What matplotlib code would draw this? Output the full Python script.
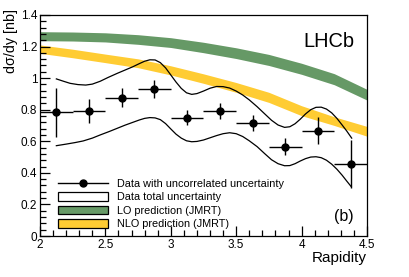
import matplotlib
matplotlib.use("Agg")
import matplotlib.pyplot as plt
from matplotlib.lines import Line2D
from matplotlib.patches import Patch
from matplotlib.ticker import MultipleLocator, FuncFormatter

plt.rcParams['font.family'] = ['Liberation Sans', 'DejaVu Sans']

# ---- data ----
rap = [2.125, 2.375, 2.625, 2.875, 3.125, 3.375, 3.625, 3.875, 4.125, 4.375]
xsig = [0.783, 0.792, 0.876, 0.931, 0.749, 0.794, 0.717, 0.566, 0.668, 0.456]
stat_err = [0.155, 0.076, 0.062, 0.058, 0.047, 0.050, 0.050, 0.053, 0.087, 0.155]
bin_half = [0.125] * 10

upper_r = [2.125, 2.18, 2.23, 2.29, 2.35, 2.40, 2.46, 2.52, 2.59, 2.65, 2.71, 2.76, 2.80,
           2.84, 2.88, 2.92, 2.96, 3.00, 3.04, 3.08, 3.12, 3.16, 3.20, 3.25, 3.30, 3.35,
           3.40, 3.45, 3.50, 3.55, 3.60, 3.66, 3.72, 3.77, 3.82, 3.87, 3.91, 3.95, 3.99,
           4.03, 4.07, 4.11, 4.15, 4.19, 4.23, 4.27, 4.31, 4.345, 4.383]
upper_v = [0.995, 0.980, 0.967, 0.959, 0.956, 0.962, 0.980, 1.004, 1.030, 1.051, 1.072, 1.092, 1.107,
           1.116, 1.115, 1.098, 1.065, 1.020, 0.975, 0.935, 0.907, 0.897, 0.902, 0.918, 0.936, 0.947,
           0.946, 0.937, 0.918, 0.893, 0.862, 0.819, 0.772, 0.733, 0.703, 0.688, 0.692, 0.711, 0.740,
           0.773, 0.800, 0.815, 0.816, 0.804, 0.780, 0.745, 0.703, 0.665, 0.620]

lower_r = [2.125, 2.20, 2.27, 2.33, 2.40, 2.46, 2.53, 2.59, 2.65, 2.71, 2.76, 2.80, 2.84,
           2.88, 2.92, 2.96, 3.00, 3.04, 3.08, 3.12, 3.16, 3.20, 3.25, 3.30, 3.35, 3.40,
           3.45, 3.50, 3.55, 3.60, 3.66, 3.72, 3.77, 3.82, 3.87, 3.91, 3.95, 3.99, 4.03,
           4.07, 4.11, 4.15, 4.19, 4.23, 4.27, 4.31, 4.345, 4.38]
lower_v = [0.572, 0.582, 0.592, 0.602, 0.620, 0.640, 0.662, 0.682, 0.702, 0.720, 0.735, 0.745, 0.750,
           0.748, 0.737, 0.712, 0.678, 0.645, 0.620, 0.603, 0.597, 0.599, 0.608, 0.622, 0.636, 0.648,
           0.654, 0.648, 0.630, 0.603, 0.566, 0.520, 0.483, 0.458, 0.445, 0.446, 0.458, 0.475, 0.490,
           0.500, 0.502, 0.496, 0.480, 0.455, 0.423, 0.385, 0.348, 0.312]

band_r = [2.0, 2.25, 2.5, 2.75, 3.0, 3.25, 3.5, 3.75, 4.0, 4.25, 4.5]
lo_hi = [1.294, 1.292, 1.287, 1.275, 1.256, 1.227, 1.192, 1.150, 1.094, 1.028, 0.929]
lo_lo = [1.237, 1.235, 1.229, 1.214, 1.194, 1.161, 1.124, 1.080, 1.024, 0.958, 0.861]
nlo_hi = [1.210, 1.183, 1.152, 1.122, 1.078, 1.027, 0.972, 0.910, 0.825, 0.755, 0.694]
nlo_lo = [1.157, 1.129, 1.098, 1.066, 1.020, 0.967, 0.910, 0.846, 0.762, 0.700, 0.632]

green = '#669966'
yellow = '#FFCC33'

fig = plt.figure(figsize=(4.09, 2.77), dpi=100)
ax = fig.add_axes([0.0978, 0.148, 0.7995, 0.798])

ax.fill_between(band_r, lo_lo, lo_hi, color=green, lw=0, zorder=1)
ax.fill_between(band_r, nlo_lo, nlo_hi, color=yellow, lw=0, zorder=1)
ax.plot(upper_r, upper_v, color='black', lw=0.9, zorder=2)
ax.plot(lower_r, lower_v, color='black', lw=0.9, zorder=2)
ax.errorbar(rap, xsig, yerr=stat_err, xerr=bin_half, fmt='o', color='black',
            ms=5, elinewidth=1.0, capsize=0, zorder=3)

ax.set_xlim(2, 4.5)
ax.set_ylim(0, 1.4)
ax.xaxis.set_major_locator(MultipleLocator(0.5))
ax.xaxis.set_minor_locator(MultipleLocator(0.1))
ax.yaxis.set_major_locator(MultipleLocator(0.2))
ax.yaxis.set_minor_locator(MultipleLocator(0.04))
fmt = FuncFormatter(lambda v, p: ('%.1f' % v).rstrip('0').rstrip('.') if abs(v) > 1e-9 else '0')
ax.xaxis.set_major_formatter(fmt)
ax.yaxis.set_major_formatter(fmt)
ax.tick_params(which='both', direction='in', top=False, right=False, labelsize=8.5, pad=2)
ax.tick_params(which='major', length=7, width=0.9)
ax.tick_params(which='minor', length=4, width=0.9)
for s in ax.spines.values():
    s.set_linewidth(0.9)

ax.set_ylabel('dσ/dy [nb]', fontsize=10.3, ha='right')
ax.yaxis.set_label_coords(-0.067, 1.027)
ax.set_xlabel('Rapidity', loc='right', fontsize=11, labelpad=0)

ax.text(0.96, 0.88, 'LHCb', transform=ax.transAxes, ha='right', va='center', fontsize=14.4)
ax.text(0.96, 0.09, '(b)', transform=ax.transAxes, ha='right', va='center', fontsize=11.5)

handles = [
    Line2D([], [], color='black', marker='o', ms=5, lw=1.0),
    Patch(facecolor='white', edgecolor='black', lw=0.9),
    Patch(facecolor=green, edgecolor='black', lw=0.9),
    Patch(facecolor=yellow, edgecolor='black', lw=0.9),
]
labels = ['Data with uncorrelated uncertainty', 'Data total uncertainty',
          'LO prediction (JMRT)', 'NLO prediction (JMRT)']
ax.legend(handles, labels, loc='lower left', bbox_to_anchor=(0.055, 0.03),
          frameon=False, fontsize=7.8, handlelength=4.6, handleheight=0.85,
          handletextpad=0.83, labelspacing=0.32, borderpad=0, borderaxespad=0)

fig.savefig('out.png', dpi=100)
